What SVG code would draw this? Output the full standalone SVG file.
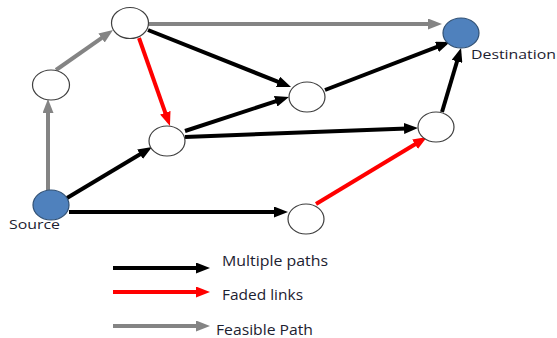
<svg xmlns="http://www.w3.org/2000/svg" width="557" height="338" viewBox="0 0 557 338">
  <style>
    .node { fill: #ffffff; stroke: #3f3f3f; stroke-width: 1.2; }
    .term { fill: #4f81bd; stroke: #2f4f73; stroke-width: 1.2; }
    .e { fill: none; stroke-width: 4; }
    .k { stroke: #000000; }
    .r { stroke: #ff0000; }
    .g { stroke: #848484; }
    .lbl { font-family: "Open Sans", "Liberation Sans", sans-serif; fill: #1c2130; }
  </style>
  <defs>
    <marker id="ah-k" markerUnits="userSpaceOnUse" markerWidth="14" markerHeight="11" refX="3" refY="5.5" orient="auto">
      <path d="M0,0 L14,5.5 L0,11 z" fill="#000000"/>
    </marker>
    <marker id="ah-r" markerUnits="userSpaceOnUse" markerWidth="14" markerHeight="11" refX="3" refY="5.5" orient="auto">
      <path d="M0,0 L14,5.5 L0,11 z" fill="#ff0000"/>
    </marker>
    <marker id="ah-g" markerUnits="userSpaceOnUse" markerWidth="14" markerHeight="11" refX="3" refY="5.5" orient="auto">
      <path d="M0,0 L14,5.5 L0,11 z" fill="#848484"/>
    </marker>
  </defs>

  <rect width="557" height="338" fill="#ffffff"/>

  <!-- links -->
  <g id="connectors">
    <line class="e g" x1="48" y1="190" x2="48" y2="110" marker-end="url(#ah-g)"/>
    <line class="e g" x1="56" y1="70" x2="104" y2="36.3" marker-end="url(#ah-g)"/>
    <line class="e g" x1="148" y1="24" x2="431" y2="24" marker-end="url(#ah-g)"/>
    <line class="e r" x1="139" y1="38" x2="166.3" y2="115.6" marker-end="url(#ah-r)"/>
    <line class="e k" x1="148" y1="30" x2="280.8" y2="82.9" marker-end="url(#ah-k)"/>
    <line class="e k" x1="185" y1="131" x2="278.5" y2="100.4" marker-end="url(#ah-k)"/>
    <line class="e k" x1="185" y1="137" x2="407" y2="128.4" marker-end="url(#ah-k)"/>
    <line class="e k" x1="325" y1="90" x2="439.7" y2="45.9" marker-end="url(#ah-k)"/>
    <line class="e k" x1="442" y1="112" x2="457.9" y2="58.5" marker-end="url(#ah-k)"/>
    <line class="e k" x1="67" y1="198" x2="142.6" y2="152.7" marker-end="url(#ah-k)"/>
    <line class="e k" x1="69" y1="212" x2="277" y2="212" marker-end="url(#ah-k)"/>
    <line class="e r" x1="316" y1="204" x2="417.6" y2="142.7" marker-end="url(#ah-r)"/>
  </g>

  <!-- network nodes -->
  <g id="node-source">
    <ellipse class="term" cx="51" cy="205" rx="18" ry="15"/>
    <text class="lbl" x="9" y="229" font-size="13" textLength="51" lengthAdjust="spacingAndGlyphs">Source</text>
  </g>
  <g id="node-destination">
    <ellipse class="term" cx="461" cy="33" rx="18" ry="15"/>
    <text class="lbl" x="471" y="59" font-size="13" textLength="85" lengthAdjust="spacingAndGlyphs">Destination</text>
  </g>
  <g id="node-a"><ellipse class="node" cx="130" cy="23" rx="18.5" ry="15.5"/></g>
  <g id="node-b"><ellipse class="node" cx="51" cy="85" rx="18.5" ry="15"/></g>
  <g id="node-c"><ellipse class="node" cx="167" cy="141" rx="18" ry="15"/></g>
  <g id="node-d"><ellipse class="node" cx="307" cy="97" rx="18" ry="15"/></g>
  <g id="node-e"><ellipse class="node" cx="436" cy="127" rx="18" ry="15"/></g>
  <g id="node-f"><ellipse class="node" cx="306" cy="219" rx="18" ry="15"/></g>

  <!-- key -->
  <g id="legend">
    <line class="e k" x1="113" y1="268" x2="199" y2="268" marker-end="url(#ah-k)"/>
    <line class="e r" x1="113" y1="292" x2="199" y2="292" marker-end="url(#ah-r)"/>
    <line class="e g" x1="113" y1="326" x2="199" y2="326" marker-end="url(#ah-g)"/>
    <text class="lbl" x="222" y="266" font-size="14.5" textLength="106" lengthAdjust="spacingAndGlyphs">Multiple paths</text>
    <text class="lbl" x="222" y="300" font-size="14.5" textLength="81" lengthAdjust="spacingAndGlyphs">Faded links</text>
    <text class="lbl" x="216" y="335" font-size="14.5" textLength="97" lengthAdjust="spacingAndGlyphs">Feasible Path</text>
  </g>
</svg>
